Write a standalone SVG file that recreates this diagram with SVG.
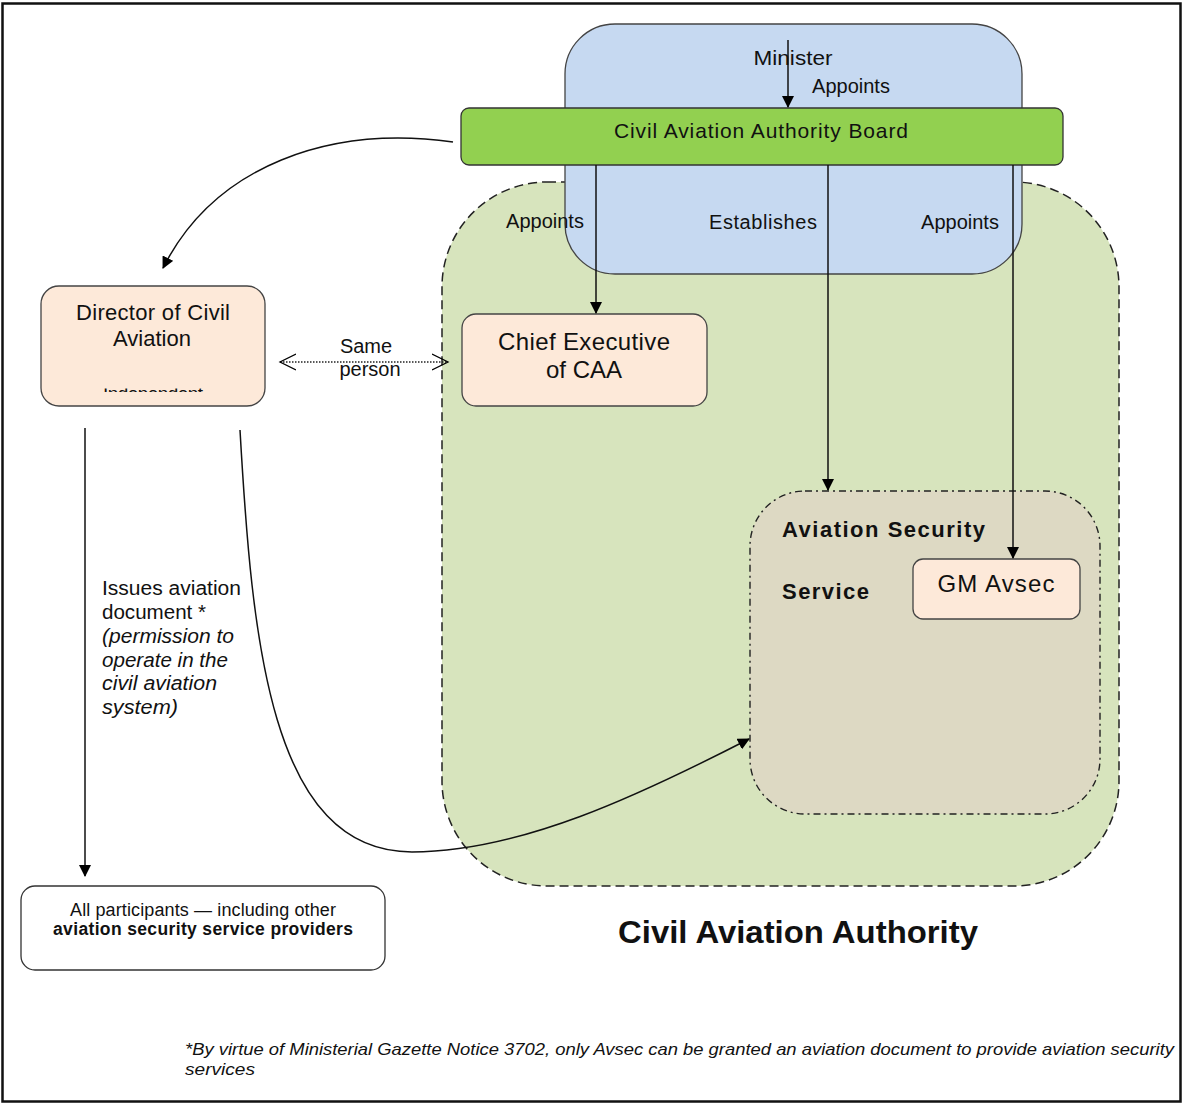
<svg xmlns="http://www.w3.org/2000/svg" width="1183" height="1104" viewBox="0 0 1183 1104">
<defs>
<marker id="ah" markerWidth="12" markerHeight="12" refX="11" refY="6" orient="auto" markerUnits="userSpaceOnUse">
<path d="M0,0 L12,6 L0,12 Z" fill="#000"/>
</marker>
<marker id="oa" markerWidth="18" markerHeight="18" refX="16" refY="9" orient="auto-start-reverse" markerUnits="userSpaceOnUse">
<path d="M0,1 L16,9 L0,17" fill="none" stroke="#000" stroke-width="1.3"/>
</marker>
<clipPath id="clipInd"><rect x="41" y="388.5" width="224" height="3.5"/></clipPath>
</defs>
<style>
text{font-family:"Liberation Sans",Arial,sans-serif;fill:#111}
.c{text-anchor:middle}
.b{font-weight:bold}
.i{font-style:italic}
.conn{fill:none;stroke:#111;stroke-width:1.5}
.pb{fill:#fde9d9;stroke:#444;stroke-width:1.3}
</style>
<rect x="0" y="0" width="1183" height="1104" fill="#fff"/>
<rect x="2.5" y="3.5" width="1178" height="1098" fill="none" stroke="#111" stroke-width="2.5"/>

<g id="caa">
<rect x="442" y="182" width="677" height="704" rx="105" fill="#d7e4bd" stroke="#222" stroke-width="1.5" stroke-dasharray="9,5"/>
<text class="c b" x="798" y="943" font-size="31" textLength="360" lengthAdjust="spacingAndGlyphs">Civil Aviation Authority</text>
</g>

<g id="minister">
<rect x="565" y="24" width="457" height="250" rx="50" fill="#c6d9f1" stroke="#444" stroke-width="1.3"/>
<text class="c" x="793" y="65" font-size="21" textLength="79" lengthAdjust="spacingAndGlyphs">Minister</text>
</g>

<g id="avsec">
<rect x="750" y="491" width="350" height="323" rx="55" fill="#ddd9c3" stroke="#222" stroke-width="1.4" stroke-dasharray="7,4,2,4"/>
<text class="b" x="782" y="537" font-size="22" textLength="203">Aviation Security</text>
<text class="b" x="782" y="599" font-size="22" textLength="87">Service</text>
</g>

<g id="board">
<rect x="461" y="108" width="602" height="57" rx="8" fill="#92d050" stroke="#333" stroke-width="1.3"/>
<text class="c" x="761" y="138" font-size="21" textLength="294">Civil Aviation Authority Board</text>
</g>

<g id="director">
<rect class="pb" x="41" y="286" width="224" height="120" rx="18"/>
<text class="c" x="153" y="320" font-size="22" textLength="154">Director of Civil</text>
<text class="c" x="152" y="346" font-size="22">Aviation</text>
<text class="c" x="153" y="400" font-size="19" textLength="100" clip-path="url(#clipInd)">Independent</text>
</g>

<g id="chief">
<rect class="pb" x="462" y="314" width="245" height="92" rx="14"/>
<text class="c" x="584" y="350" font-size="24" textLength="172">Chief Executive</text>
<text class="c" x="584" y="378" font-size="24">of CAA</text>
</g>

<g id="gm">
<rect class="pb" x="913" y="559" width="167" height="60" rx="10"/>
<text class="c" x="996" y="592" font-size="24" textLength="117">GM Avsec</text>
</g>

<g id="participants">
<rect x="21" y="886" width="364" height="84" rx="14" fill="#fff" stroke="#333" stroke-width="1.3"/>
<text class="c" x="203" y="916" font-size="18" textLength="266">All participants — including other</text>
<text class="c b" x="203" y="935" font-size="17.5" textLength="300">aviation security service providers</text>
</g>

<g id="connectors">
<line class="conn" x1="788" y1="40" x2="788" y2="107" marker-end="url(#ah)"/>
<line class="conn" x1="596" y1="165" x2="596" y2="313" marker-end="url(#ah)"/>
<line class="conn" x1="828" y1="165" x2="828" y2="490" marker-end="url(#ah)"/>
<line class="conn" x1="1013" y1="165" x2="1013" y2="558" marker-end="url(#ah)"/>
<path class="conn" d="M453,142 C330,125 215,165 163,268" marker-end="url(#ah)"/>
<line class="conn" x1="85" y1="428" x2="85" y2="876" marker-end="url(#ah)"/>
<path class="conn" d="M240,430 C252,640 270,852 412,852 C520,852 640,795 749,739" marker-end="url(#ah)"/>
<line x1="280" y1="362" x2="448" y2="362" stroke="#222" stroke-width="1.5" stroke-dasharray="1.5,1.5" marker-start="url(#oa)" marker-end="url(#oa)"/>
</g>

<g id="labels">
<text class="c" x="851" y="93" font-size="20">Appoints</text>
<text class="c" x="545" y="228" font-size="20">Appoints</text>
<text class="c" x="763" y="229" font-size="20" textLength="108">Establishes</text>
<text class="c" x="960" y="229" font-size="20">Appoints</text>
<text class="c" x="366" y="353" font-size="20">Same</text>
<text class="c" x="370" y="376" font-size="20">person</text>
<text x="102" y="595" font-size="20" textLength="139" lengthAdjust="spacingAndGlyphs">Issues aviation</text>
<text x="102" y="619" font-size="20" textLength="104" lengthAdjust="spacingAndGlyphs">document *</text>
<text class="i" x="102" y="643" font-size="20" textLength="132" lengthAdjust="spacingAndGlyphs">(permission to</text>
<text class="i" x="102" y="667" font-size="20" textLength="126" lengthAdjust="spacingAndGlyphs">operate in the</text>
<text class="i" x="102" y="690" font-size="20" textLength="115" lengthAdjust="spacingAndGlyphs">civil aviation</text>
<text class="i" x="102" y="714" font-size="20" textLength="76" lengthAdjust="spacingAndGlyphs">system)</text>
<text class="i" x="185" y="1055" font-size="17" textLength="989" lengthAdjust="spacingAndGlyphs">*By virtue of Ministerial Gazette Notice 3702, only Avsec can be granted an aviation document to provide aviation security</text>
<text class="i" x="185" y="1075" font-size="17" textLength="70" lengthAdjust="spacingAndGlyphs">services</text>
</g>
</svg>
